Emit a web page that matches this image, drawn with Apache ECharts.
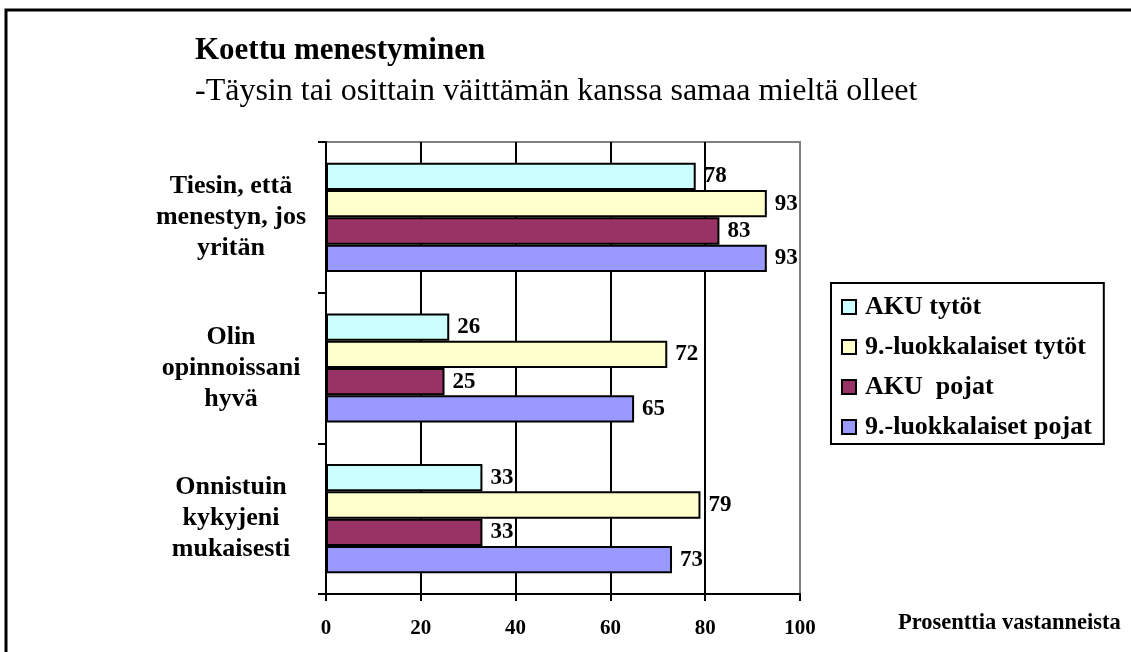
<!DOCTYPE html>
<html>
<head>
<meta charset="utf-8">
<script src="https://cdn.jsdelivr.net/npm/echarts@6/dist/echarts.min.js"></script>
<style>
  html, body { margin: 0; padding: 0; background: #fff; }
  #main { width: 1131px; height: 652px; }
</style>
</head>
<body>
<div id="main"></div>
<script>
// kysymykset
const categories = ['Tiesin, että\nmenestyn, jos\nyritän', 'Olin\nopinnoissani\nhyvä', 'Onnistuin\nkykyjeni\nmukaisesti']
const seriesNames = ['AKU tytöt', '9.-luokkalaiset tytöt', 'AKU  pojat', '9.-luokkalaiset pojat']
const akuTytot = [78, 26, 33]
const ysiTytot = [93, 72, 79]
const akuPojat = [83, 25, 33]
const ysiPojat = [93, 65, 73]
const xTicks = [0, 20, 40, 60, 80, 100]

const colors = ['#CCFFFF', '#FFFFCC', '#993366', '#9999FF']
const font = '"Liberation Serif", "Times New Roman", serif'

const myChart = echarts.init(document.getElementById('main'))

function bar (i, data) {
  return {
    name: seriesNames[i],
    type: 'bar',
    data: data,
    barGap: '0%',
    barCategoryGap: '27.5%',
    itemStyle: { color: colors[i], borderColor: '#000', borderWidth: 2 },
    label: {
      show: true,
      position: 'right',
      distance: 8,
      color: '#000',
      fontFamily: font,
      fontWeight: 'bold',
      fontSize: 23
    }
  }
}

myChart.setOption({
  animation: false,
  title: [
    { text: 'Koettu menestyminen', left: 190, top: 30,
      textStyle: { fontFamily: font, fontWeight: 'bold', fontSize: 31, color: '#000' } },
    { text: '-Täysin tai osittain väittämän kanssa samaa mieltä olleet', left: 190, top: 71,
      textStyle: { fontFamily: font, fontWeight: 'normal', fontSize: 32, color: '#000' } },
    { text: 'Prosenttia vastanneista', left: 893, top: 607,
      textStyle: { fontFamily: font, fontWeight: 'bold', fontSize: 22.5, color: '#000' } }
  ],
  legend: {
    orient: 'vertical',
    left: 831,
    top: 283,
    data: seriesNames,
    icon: 'rect',
    itemWidth: 14,
    itemHeight: 14,
    itemGap: 14,
    padding: [11, 12, 4, 10],
    borderColor: '#000',
    borderWidth: 2,
    textStyle: { fontFamily: font, fontWeight: 'bold', fontSize: 26, color: '#000', padding: [0, 0, 0, 4] }
  },
  grid: {
    left: 326,
    right: 331,
    top: 142,
    bottom: 58,
    show: true,
    borderColor: '#808080',
    borderWidth: 2
  },
  xAxis: {
    type: 'value',
    min: 0,
    max: 100,
    interval: 20,
    axisLine: { show: true, lineStyle: { color: '#000', width: 2 } },
    axisTick: { show: true, length: 7, lineStyle: { color: '#000', width: 2 } },
    axisLabel: {
      margin: 24,
      color: '#000',
      fontFamily: font,
      fontWeight: 'bold',
      fontSize: 21,
      formatter: function (v) { return xTicks.indexOf(v) >= 0 ? String(v) : '' }
    },
    splitLine: { show: true, lineStyle: { color: ['#000', '#000', '#000', '#000', '#000', '#808080'], width: 2 } }
  },
  yAxis: {
    type: 'category',
    inverse: true,
    data: categories,
    axisLine: { show: true, lineStyle: { color: '#000', width: 2 } },
    axisTick: { show: true, length: 8, lineStyle: { color: '#000', width: 2 } },
    axisLabel: {
      margin: 95,
      align: 'center',
      lineHeight: 31,
      color: '#000',
      fontFamily: font,
      fontWeight: 'bold',
      fontSize: 26
    }
  },
  graphic: [
    {
      type: 'rect',
      silent: true,
      shape: { x: 6, y: 10, width: 1300, height: 800 },
      style: { fill: 'none', stroke: '#000', lineWidth: 3 }
    }
  ],
  series: [
    bar(0, akuTytot),
    bar(1, ysiTytot),
    bar(2, akuPojat),
    bar(3, ysiPojat)
  ]
})
</script>
</body>
</html>
